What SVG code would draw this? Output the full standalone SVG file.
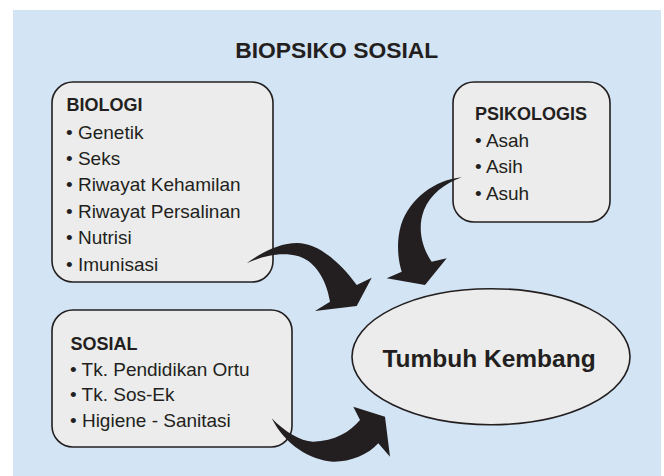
<svg xmlns="http://www.w3.org/2000/svg" width="664" height="476" viewBox="0 0 664 476">
<style>
.box{fill:#ebeceb;stroke:#231f20;stroke-width:1.6}
.t{font-family:"Liberation Sans",Arial,sans-serif;fill:#231f20}
.h{font-size:18px;font-weight:bold}
.i{font-size:19px}
.arr{fill:#231f20;stroke:none}
</style>
<rect x="0" y="0" width="664" height="476" fill="#ffffff"/>
<rect x="13" y="10" width="648" height="466" fill="#d3e4f4"/>
<text class="t" x="336.7" y="58.3" text-anchor="middle" font-size="22" font-weight="bold" textLength="203" lengthAdjust="spacingAndGlyphs">BIOPSIKO SOSIAL</text>
<g id="biologi">
<rect class="box" x="52" y="82" width="221" height="200" rx="21"/>
<text class="t h" x="66.5" y="111">BIOLOGI</text>
<text class="t i" x="66" y="138.5">• Genetik</text>
<text class="t i" x="66" y="165">• Seks</text>
<text class="t i" x="66" y="191">• Riwayat Kehamilan</text>
<text class="t i" x="66" y="217.5">• Riwayat Persalinan</text>
<text class="t i" x="66" y="244">• Nutrisi</text>
<text class="t i" x="66" y="270.5">• Imunisasi</text>
</g>
<g id="psikologis">
<rect class="box" x="453" y="82" width="157" height="140" rx="21"/>
<text class="t h" x="475" y="120">PSIKOLOGIS</text>
<text class="t i" x="475" y="146.5">• Asah</text>
<text class="t i" x="475" y="173">• Asih</text>
<text class="t i" x="475" y="199.5">• Asuh</text>
</g>
<g id="sosial">
<rect class="box" x="52" y="310" width="240" height="137" rx="21"/>
<text class="t h" x="70.5" y="350">SOSIAL</text>
<text class="t i" x="70" y="375.5">• Tk. Pendidikan Ortu</text>
<text class="t i" x="70" y="401">• Tk. Sos-Ek</text>
<text class="t i" x="70" y="427">• Higiene - Sanitasi</text>
</g>
<g id="tumbuh-kembang">
<ellipse class="box" cx="491" cy="356.7" rx="139" ry="68"/>
<text class="t" x="489" y="367" text-anchor="middle" font-size="24.5" font-weight="bold">Tumbuh Kembang</text>
</g>
<g id="connectors">
<path class="arr" d="M246.7,263.3 C262,252 280,243 297,243 C318,243 340,262 356.7,285 L371.7,277.7 L356.7,306 L315,311 L330,301.7 C327,283 318,265 303,258 C290,252 268,253 246.7,263.3 Z"/>
<path class="arr" d="M461.7,177.3 C435,180 410,198 401,225 C396,242 398,260 401.7,271.7 L386.7,278.3 L425,285 L446.7,258.3 L431.7,261.7 C422,248 417,228 424,210 C430,195 445,183 461.7,177.3 Z"/>
<path class="arr" d="M271.7,418.3 C285,445 310,460 333,461.7 C350,462 368,455 378.3,443.3 L390,456.7 L385,416.7 L353.3,406.7 L360,420 C350,432 335,441 313,441.7 C300,441 285,432 271.7,418.3 Z"/>
</g>
</svg>
